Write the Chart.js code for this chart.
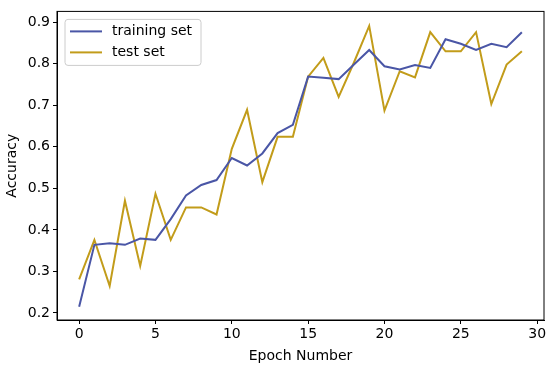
<!DOCTYPE html>
<html>
<head>
<meta charset="utf-8">
<script src="https://cdn.jsdelivr.net/npm/chart.js@4"></script>
<style>
  html, body { margin: 0; padding: 0; background: #fff; }
  #wrap { width: 550px; height: 369px; }
</style>
</head>
<body>
<div id="wrap"><canvas id="chart" width="550" height="369"></canvas></div>
<script>
const epochs = Array.from({length: 30}, (_, i) => i);
const trainingSet = [0.215, 0.364, 0.368, 0.364, 0.379, 0.376, 0.426, 0.483, 0.508, 0.520,
    0.573, 0.555, 0.584, 0.633, 0.653, 0.769, 0.766, 0.763, 0.798, 0.833,
    0.794, 0.786, 0.797, 0.790, 0.859, 0.848, 0.833, 0.848, 0.840, 0.876];
const testSet = [0.281, 0.376, 0.265, 0.470, 0.313, 0.487, 0.376, 0.454, 0.454, 0.437,
    0.595, 0.689, 0.515, 0.624, 0.624, 0.769, 0.814, 0.720, 0.803, 0.891,
    0.687, 0.782, 0.767, 0.876, 0.830, 0.830, 0.876, 0.703, 0.798, 0.830];
const xTicks = [0, 5, 10, 15, 20, 25, 30];
const yTicks = [0.2, 0.3, 0.4, 0.5, 0.6, 0.7, 0.8, 0.9];

const FONT = "'DejaVu Sans', sans-serif";
const TRAIN_COLOR = "#4a56a6";
const TEST_COLOR = "#c29c1a";

// frame round the plot area plus the legend box in the top left
const framePlugin = {
    id: "frame",
    afterDraw(chart) {
        const ctx = chart.ctx;
        const a = chart.chartArea;
        ctx.save();
        ctx.strokeStyle = "#000";
        ctx.lineWidth = 1;
        ctx.strokeRect(a.left, a.top, a.right - a.left, a.bottom - a.top);

        const x = a.left + 8, y = a.top + 8, w = 136, h = 46;
        ctx.beginPath();
        ctx.roundRect(x, y, w, h, 3);
        ctx.fillStyle = "rgba(255,255,255,0.8)";
        ctx.fill();
        ctx.strokeStyle = "#cccccc";
        ctx.stroke();

        ctx.font = "14px " + FONT;
        ctx.textBaseline = "middle";
        chart.data.datasets.forEach((ds, i) => {
            const ry = y + 12 + i * 21;
            ctx.strokeStyle = ds.borderColor;
            ctx.lineWidth = 2;
            ctx.beginPath();
            ctx.moveTo(x + 5, ry);
            ctx.lineTo(x + 37, ry);
            ctx.stroke();
            ctx.fillStyle = "#000";
            ctx.fillText(ds.label, x + 47, ry);
        });
        ctx.restore();
    },
};

new Chart(document.getElementById("chart"), {
    type: "line",
    data: {
        labels: epochs,
        datasets: [
            {
                label: "training set",
                data: trainingSet,
                borderColor: TRAIN_COLOR,
                backgroundColor: TRAIN_COLOR,
                borderWidth: 2,
                pointRadius: 0,
                tension: 0,
            },
            {
                label: "test set",
                data: testSet,
                borderColor: TEST_COLOR,
                backgroundColor: TEST_COLOR,
                borderWidth: 2,
                pointRadius: 0,
                tension: 0,
            },
        ],
    },
    options: {
        responsive: false,
        animation: false,
        layout: { padding: { top: 4, right: 6, left: 0, bottom: 0 } },
        plugins: {
            legend: { display: false },
            tooltip: { enabled: false },
        },
        scales: {
            x: {
                type: "linear",
                min: -1.45,
                max: 30.45,
                afterBuildTicks: (scale) => { scale.ticks = xTicks.map((v) => ({ value: v })); },
                afterFit: (scale) => { scale.height = 49; },
                ticks: { color: "#000", font: { family: FONT, size: 14 }, padding: 2, maxRotation: 0 },
                grid: { drawOnChartArea: false, drawTicks: true, tickLength: 4, color: "#000" },
                border: { display: true, color: "#000" },
                title: { display: true, text: "Epoch Number", color: "#000", font: { family: FONT, size: 14 }, padding: { top: 1 } },
            },
            y: {
                type: "linear",
                min: 0.183,
                max: 0.926,
                afterBuildTicks: (scale) => { scale.ticks = yTicks.map((v) => ({ value: v })); },
                afterFit: (scale) => { scale.width = 57; },
                ticks: { color: "#000", font: { family: FONT, size: 14 }, padding: 3, callback: (v) => v.toFixed(1) },
                grid: { drawOnChartArea: false, drawTicks: true, tickLength: 4, color: "#000" },
                border: { display: true, color: "#000" },
                title: { display: true, text: "Accuracy", color: "#000", font: { family: FONT, size: 14 }, padding: { bottom: 2 } },
            },
        },
    },
    plugins: [framePlugin],
});
</script>
</body>
</html>
